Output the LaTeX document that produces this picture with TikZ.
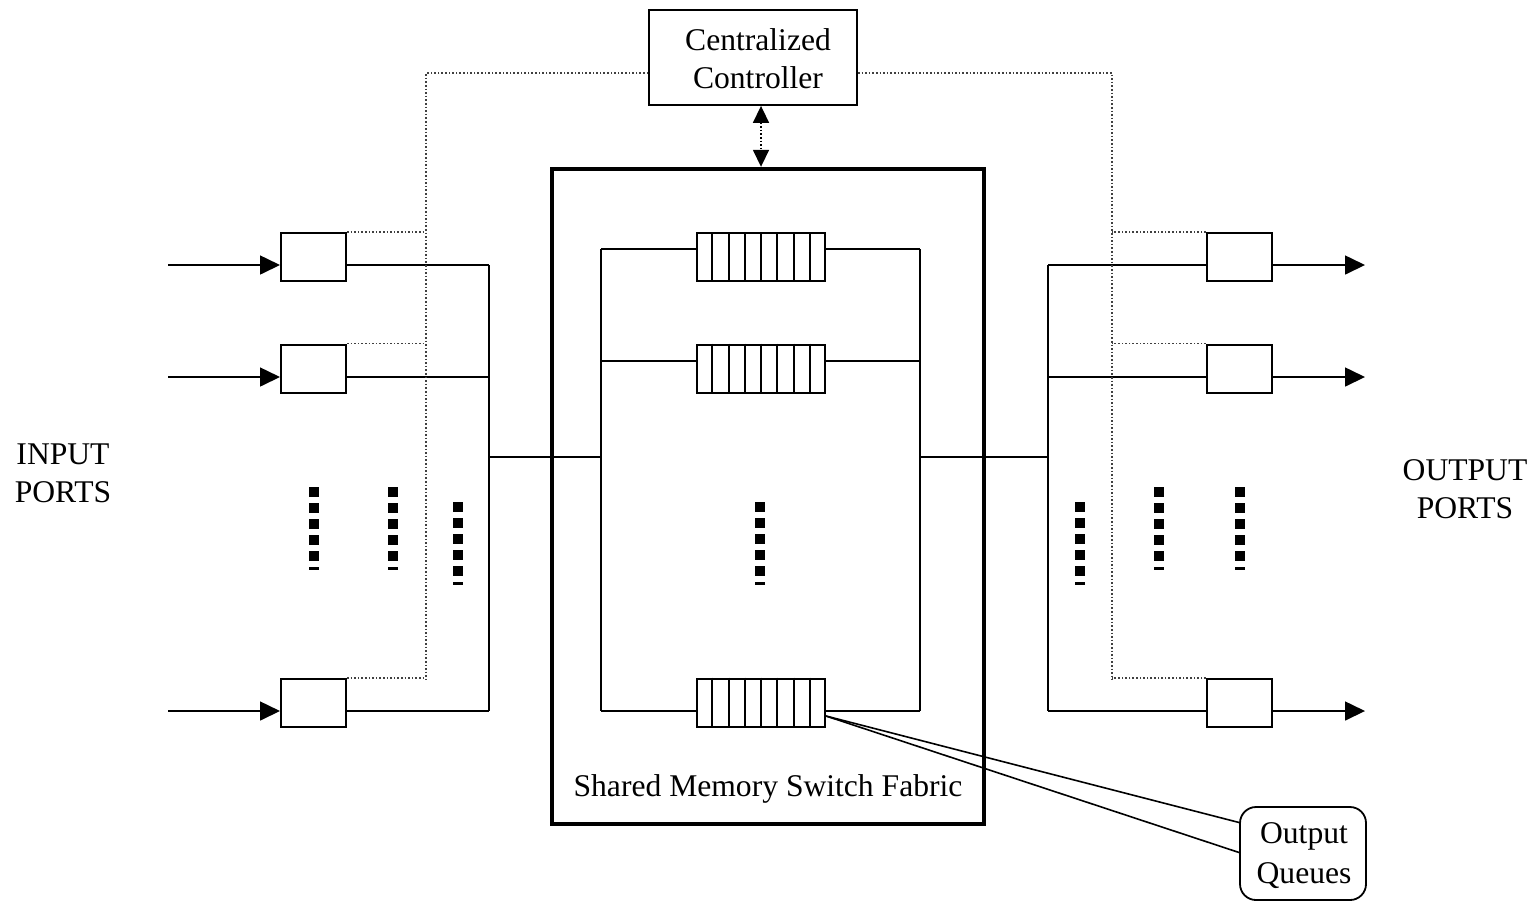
\documentclass[tikz,border=0pt]{standalone}
\usepackage{fontspec}
\setmainfont{Liberation Serif}
\usetikzlibrary{arrows.meta,calc}
\begin{document}
\begin{tikzpicture}[x=0.5pt,y=-0.5pt,
  txt/.style={font=\fontsize{15.8pt}{19pt}\selectfont, align=center},
  portbox/.style={draw, line width=1pt, minimum width=32.5pt, minimum height=24pt, inner sep=0pt},
  ctrlbox/.style={draw, line width=0.9pt, minimum width=104pt, minimum height=47.5pt, inner sep=0pt},
  fabricbox/.style={draw, line width=2.2pt, minimum width=216pt, minimum height=327.5pt, inner sep=0pt},
  queuebox/.style={draw, line width=1pt, minimum width=64pt, minimum height=24pt, inner sep=0pt},
  calloutbox/.style={draw, line width=0.9pt, rounded corners=8pt, minimum width=63pt, minimum height=46.5pt, inner sep=0pt},
  wire/.style={line width=0.8pt},
  flow/.style={wire, -{Triangle[length=10pt,width=9.5pt]}},
  ctlwire/.style={line width=0.8pt, densely dotted, black!75},
  ctlarrow/.style={line width=0.8pt, densely dotted, {Triangle[length=8.5pt,width=8pt]}-{Triangle[length=8.5pt,width=8pt]}},
]
\useasboundingbox (0,0) rectangle (1535,902);

% controller and switch fabric
\node[ctrlbox] (ctrl) at (753,57.5) {};
\node[txt] (ctrltext) at (758,59) {Centralized\\Controller};
\node[fabricbox] (fab) at (768,496.5) {};
\node[txt] (fablabel) at (768,789) {Shared Memory Switch Fabric};

% controller <-> fabric
\coordinate (ca) at (761,0);
\draw[ctlarrow] (ctrl.south -| ca) -- (fab.north -| ca);

% port labels
\node[txt] (inlabel) at (63,473) {INPUT\\PORTS};
\node[txt] (outlabel) at (1465,489) {OUTPUT\\PORTS};

% ports, links and queues
\foreach \n/\yb/\yl/\yq/\yql in {1/257/265/257/249, 2/368.5/377/368.5/361, 3/703/711/702.5/711} {
  \node[portbox] (in\n) at (313.5,\yb) {};
  \node[portbox] (out\n) at (1239.5,\yb) {};
  \node[queuebox] (q\n) at (761,\yq) {};
  \foreach \i in {1,...,7}
    \draw[line width=1pt] ($(q\n.north west)!\i/8!(q\n.north east)$) -- ($(q\n.south west)!\i/8!(q\n.south east)$);
  \coordinate (src\n) at (168,\yl);
  \coordinate (lb\n) at (489,\yl);
  \coordinate (rb\n) at (1048,\yl);
  \coordinate (dst\n) at (1365,\yl);
  \coordinate (ql\n) at (601,\yql);
  \coordinate (qr\n) at (920,\yql);
  \draw[flow] (src\n) -- (src\n -| in\n.west);
  \draw[wire] (in\n.east |- lb\n) -- (lb\n);
  \draw[wire] (rb\n) -- (rb\n -| out\n.west);
  \draw[flow] (out\n.east |- dst\n) -- (dst\n);
  \draw[wire] (ql\n) -- (ql\n -| q\n.west);
  \draw[wire] (q\n.east |- qr\n) -- (qr\n);
}

% buses
\draw[wire] (lb1) -- (lb3);
\draw[wire] (rb1) -- (rb3);
\draw[wire] (ql1) -- (ql3);
\draw[wire] (qr1) -- (qr3);
\coordinate (lbm) at (489,457);
\coordinate (rbm) at (1048,457);
\draw[wire] (lbm) -- (lbm -| ql1);
\draw[wire] (rbm) -- (rbm -| qr1);

% control lines
\coordinate (dl) at (426,73);
\coordinate (dlb) at (426,680);
\coordinate (dr) at (1112,73);
\coordinate (drb) at (1112,680);
\draw[ctlwire] (ctrl.west |- dl) -- (dl) -- (dlb);
\draw[ctlwire] (ctrl.east |- dr) -- (dr) -- (drb);
\foreach \n in {1,2,3} {
  \draw[ctlwire] (in\n.north east) -- (in\n.north east -| dl);
  \draw[ctlwire] (out\n.north west) -- (out\n.north west -| dr);
}

% ellipsis marks
\foreach \x/\y in {314/487, 393/487, 458/502, 760/502, 1080/502, 1159/487, 1240/487} {
  \foreach \k in {0,...,4}
    \fill (\x-5,\y+16*\k) rectangle ++(10,10);
  \fill (\x-5,\y+80) rectangle ++(10,2.5);
}

% output queue callout
\node[calloutbox] (oq) at (1303,853.5) {};
\node[txt, font=\fontsize{15.8pt}{20pt}\selectfont] (oqtext) at (1304,856) {Output\\Queues};
\coordinate (qs) at (826,716);
\draw[wire] (qs) -- ([yshift=15.5pt]oq.west);
\draw[wire] (qs) -- ([yshift=0.5pt]oq.west);
\end{tikzpicture}
\end{document}
